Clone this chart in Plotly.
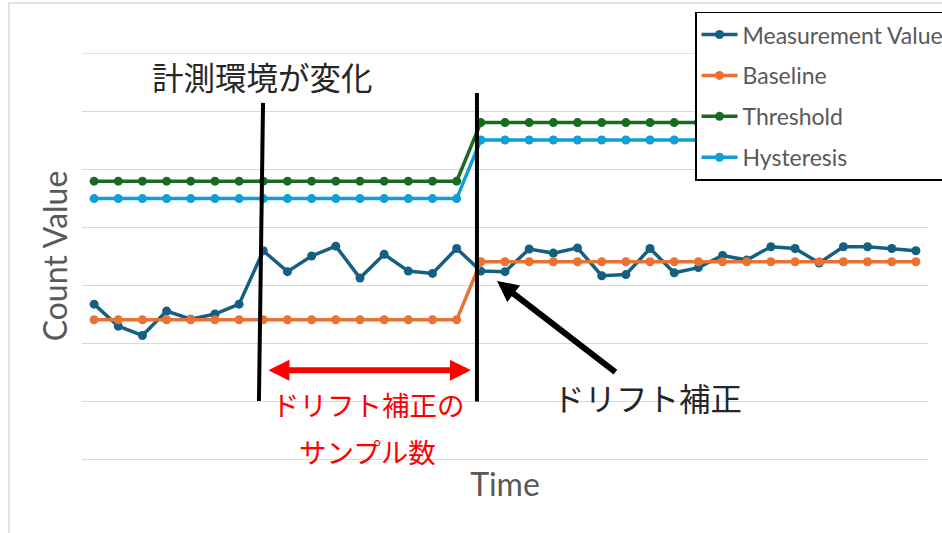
import plotly.graph_objects as go

# ---- data ----
time_idx = list(range(1, 36))
measurement = [2.67, 2.29, 2.13, 2.55, 2.41, 2.50, 2.67, 3.59, 3.23, 3.50,
               3.67, 3.12, 3.53, 3.24, 3.20, 3.63, 3.24, 3.23, 3.62, 3.55,
               3.64, 3.16, 3.18, 3.63, 3.21, 3.30, 3.51, 3.43, 3.66, 3.63,
               3.38, 3.66, 3.66, 3.63, 3.59]
baseline = [2.40] * 16 + [3.40] * 19
threshold = [4.79] * 16 + [5.80] * 19
hysteresis = [4.49] * 16 + [5.50] * 19

series_names = ["Measurement Value", "Baseline", "Threshold", "Hysteresis"]
series_values = [measurement, baseline, threshold, hysteresis]
series_colors = ["#156082", "#E97132", "#196B24", "#0F9ED5"]

FONT = "Lato"
JP = "Noto Sans CJK JP"

fig = go.Figure()
for name, vals, col in zip(series_names, series_values, series_colors):
    fig.add_trace(go.Scatter(
        x=time_idx, y=vals, name=name, mode="lines+markers",
        line=dict(color=col, width=3.5),
        marker=dict(color=col, size=9),
        legendgroup=name,
    ))

# top gridline (plotly omits gridlines at the exact range end)
fig.add_shape(type="line", xref="paper", yref="y", x0=0, x1=1, y0=7, y1=7,
              line=dict(color="#D9D9D9", width=1.3), layer="below")

# vertical marker lines
fig.add_shape(type="line", xref="x", yref="y", x0=7.99, y0=6.14, x1=7.82, y1=1.0,
              line=dict(color="black", width=4))
fig.add_shape(type="line", xref="x", yref="y", x0=16.84, y0=6.31, x1=16.84, y1=0.99,
              line=dict(color="black", width=4))

# chart outer border
fig.add_shape(type="rect", xref="paper", yref="paper",
              x0=-0.0863, y0=-0.4, x1=1.2, y1=1.123,
              line=dict(color="#D9D9D9", width=1.5), layer="below")

# red double arrow
fig.add_annotation(x=16.59, y=1.53, ax=8.15, ay=1.53, xref="x", yref="y",
                   axref="x", ayref="y", text="", showarrow=True,
                   arrowhead=2, startarrowhead=2, arrowside="end+start",
                   arrowwidth=6, arrowsize=0.7, startarrowsize=0.7,
                   arrowcolor="#FF0000")
# black arrow
fig.add_annotation(x=17.67, y=3.07, ax=22.63, ay=1.48, xref="x", yref="y",
                   axref="x", ayref="y", text="", showarrow=True,
                   arrowhead=2, arrowwidth=6, arrowsize=0.7, arrowcolor="black")

# texts
fig.add_annotation(x=7.95, y=6.60, xref="x", yref="y", text="計測環境が変化",
                   showarrow=False, font=dict(family=JP, size=31.5, color="#262626"))
fig.add_annotation(x=23.88, y=1.07, xref="x", yref="y", text="ドリフト補正",
                   showarrow=False, font=dict(family=JP, size=31.5, color="#262626"))
fig.add_annotation(x=12.37, y=0.95, xref="x", yref="y", text="ドリフト補正の",
                   showarrow=False, font=dict(family=JP, size=27.5, color="#FF0000"))
fig.add_annotation(x=12.33, y=0.14, xref="x", yref="y", text="サンプル数",
                   showarrow=False, font=dict(family=JP, size=27.5, color="#FF0000"))

fig.update_layout(
    width=942, height=533,
    margin=dict(l=82, r=14, t=53, b=74, autoexpand=False),
    paper_bgcolor="white", plot_bgcolor="white",
    font=dict(family=FONT, color="#595959"),
    showlegend=True,
    legend=dict(
        x=0.7246, y=1.102, xanchor="left", yanchor="top",
        bordercolor="black", borderwidth=1.5, bgcolor="white",
        font=dict(family=FONT, size=23, color="#595959"),
        tracegroupgap=8, itemwidth=36,
    ),
)
fig.update_xaxes(range=[0.5, 35.5], showgrid=False, showticklabels=False,
                 ticks="", showline=False, zeroline=False,
                 title=dict(text="Time", font=dict(family=FONT, size=32, color="#595959"),
                            standoff=14))
fig.update_yaxes(range=[0, 7], dtick=1, tick0=0, showgrid=True, gridcolor="#D9D9D9",
                 gridwidth=1.3, zeroline=True, zerolinecolor="#D9D9D9", zerolinewidth=1.3,
                 showticklabels=False, ticks="", showline=False,
                 title=dict(text="Count Value", font=dict(family=FONT, size=32, color="#595959"),
                            standoff=3))

fig.write_html("out.html", config={"displayModeBar": False},
               post_script="document.body.style.margin='0';document.body.style.overflow='hidden';")
